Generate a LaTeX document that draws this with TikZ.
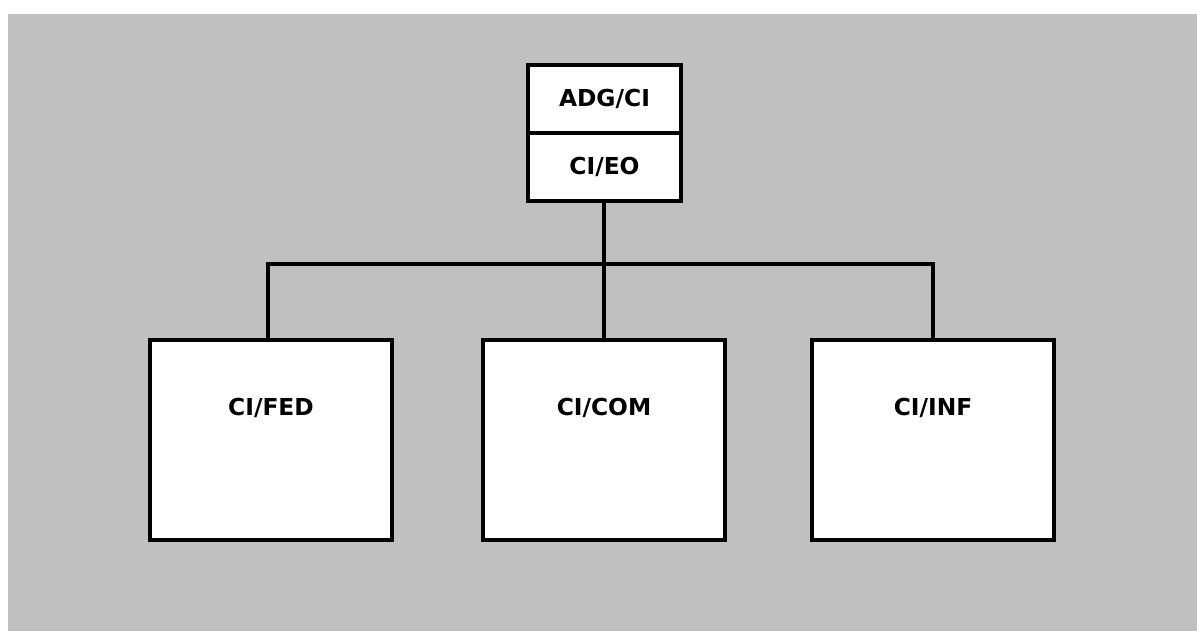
\documentclass[tikz,border=0pt]{standalone}
\usepackage{fontspec}
\setmainfont{DejaVu Sans}
\begin{document}
\begin{tikzpicture}[x=0.75pt,y=-0.75pt,
  box/.style={draw=black,line width=2.3pt,fill=white},
  wire/.style={draw=black,line width=2.3pt},
  lbl/.style={font=\bfseries\fontsize{17.5}{20}\selectfont,inner sep=0pt}]
\useasboundingbox (0,0) rectangle (1197,631);
\fill[fill={rgb,255:red,192;green,192;blue,192}] (8,14) rectangle (1197,631);
% top two-part box
\draw[box] (528,65) rectangle (681,133);
\draw[box] (528,133) rectangle (681,201);
\node[lbl] (adg) at (604.5,99) {ADG/CI};
\node[lbl] (eo) at (604.5,167) {CI/EO};
\coordinate (eob) at (604,201);
% lower boxes
\draw[box] (150,340) rectangle (392,540);
\draw[box] (483,340) rectangle (725,540);
\draw[box] (812,340) rectangle (1054,540);
\node[lbl] (fed) at (271,408) {CI/FED};
\node[lbl] (com) at (604,408) {CI/COM};
\node[lbl] (inf) at (933,408) {CI/INF};
\coordinate (fedt) at (268,340);
\coordinate (comt) at (604,340);
\coordinate (inft) at (933,340);
\coordinate (bus) at (604,264);
% connectors
\draw[wire] (eob) -- (comt);
\draw[wire] (fedt) |- (bus) -| (inft);
\end{tikzpicture}
\end{document}
